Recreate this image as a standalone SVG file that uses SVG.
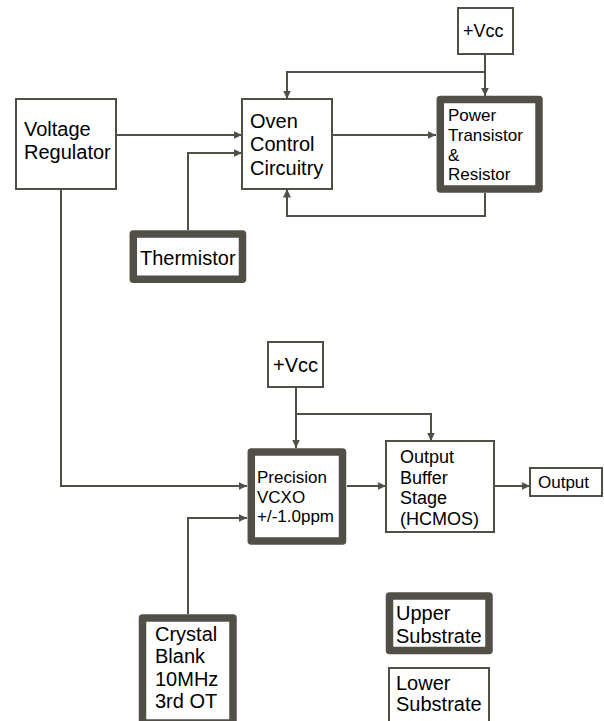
<svg xmlns="http://www.w3.org/2000/svg" width="604" height="721" viewBox="0 0 604 721">
<defs>
<style>
.thin{fill:#fff;stroke:#524f48;stroke-width:2}
.thick{fill:#fff;stroke:#524f48;stroke-width:7.5;stroke-linejoin:round}
.wire{fill:none;stroke:#524f48;stroke-width:2}
text{font-family:"Liberation Sans",Arial,sans-serif;fill:#000}
.f20{font-size:20px}
.f18{font-size:18px}
.f17{font-size:17px}
</style>
<marker id="ah" markerUnits="userSpaceOnUse" markerWidth="9" markerHeight="9" refX="8.5" refY="4.5" orient="auto">
<path d="M0,0.5 L8.5,4.5 L0,8.5 z" fill="#524f48"/>
</marker>
</defs>
<rect width="604" height="721" fill="#fff"/>
<g id="connectors">
<path class="wire" d="M485,54 V96" marker-end="url(#ah)"/>
<path class="wire" d="M485,72 H287 V99" marker-end="url(#ah)"/>
<path class="wire" d="M332,135 H436" marker-end="url(#ah)"/>
<path class="wire" d="M485,193 V216 H287 V189" marker-end="url(#ah)"/>
<path class="wire" d="M116,135 H242" marker-end="url(#ah)"/>
<path class="wire" d="M188,230 V153 H242" marker-end="url(#ah)"/>
<path class="wire" d="M61,189 V486 H247" marker-end="url(#ah)"/>
<path class="wire" d="M296,387 V448" marker-end="url(#ah)"/>
<path class="wire" d="M296,414 H431 V441" marker-end="url(#ah)"/>
<path class="wire" d="M347,486 H386" marker-end="url(#ah)"/>
<path class="wire" d="M494,486 H530" marker-end="url(#ah)"/>
<path class="wire" d="M188,614 V518 H247" marker-end="url(#ah)"/>
</g>
<g id="vcc1">
<rect class="thin" x="458" y="8" width="55" height="46"/>
<text class="f18" x="463" y="37">+Vcc</text>
</g>
<g id="voltage-regulator">
<rect class="thin" x="16" y="99" width="100" height="90"/>
<text class="f20" x="24" y="136">Voltage</text>
<text class="f20" x="24" y="159">Regulator</text>
</g>
<g id="oven-control">
<rect class="thin" x="242" y="99" width="90" height="90"/>
<text class="f20" x="250" y="128">Oven</text>
<text class="f20" x="250" y="151">Control</text>
<text class="f20" x="250" y="175">Circuitry</text>
</g>
<g id="power-transistor">
<rect class="thick" x="440.3" y="99.5" width="98.7" height="89.5"/>
<text class="f17" x="448" y="121">Power</text>
<text class="f17" x="448" y="141">Transistor</text>
<text class="f17" x="448" y="161">&amp;</text>
<text class="f17" x="448" y="180">Resistor</text>
</g>
<g id="thermistor">
<rect class="thick" x="133.3" y="234" width="109.2" height="45.3"/>
<text class="f20" x="140" y="265">Thermistor</text>
</g>
<g id="vcc2">
<rect class="thin" x="268" y="342" width="55" height="45"/>
<text class="f20" x="273" y="372">+Vcc</text>
</g>
<g id="precision-vcxo">
<rect class="thick" x="251.3" y="452" width="91.2" height="89"/>
<text class="f17" x="257" y="483">Precision</text>
<text class="f17" x="257" y="503">VCXO</text>
<text class="f17" x="257" y="522">+/-1.0ppm</text>
</g>
<g id="output-buffer">
<rect class="thin" x="386" y="441" width="108" height="91"/>
<text class="f18" x="400" y="463">Output</text>
<text class="f18" x="400" y="484">Buffer</text>
<text class="f18" x="400" y="504">Stage</text>
<text class="f18" x="400" y="525">(HCMOS)</text>
</g>
<g id="output">
<rect class="thin" x="530" y="468" width="72" height="28"/>
<text class="f17" x="538" y="488">Output</text>
</g>
<g id="crystal-blank">
<rect class="thick" x="142.5" y="618" width="90.5" height="105"/>
<text class="f20" x="155" y="641">Crystal</text>
<text class="f20" x="155" y="663">Blank</text>
<text class="f20" x="155" y="686">10MHz</text>
<text class="f20" x="155" y="708">3rd OT</text>
</g>
<g id="upper-substrate">
<rect class="thick" x="389.5" y="596" width="99.5" height="54.5"/>
<text class="f20" x="396" y="620">Upper</text>
<text class="f20" x="396" y="643">Substrate</text>
</g>
<g id="lower-substrate">
<rect class="thin" x="389" y="668" width="100" height="62"/>
<text class="f20" x="396" y="690">Lower</text>
<text class="f20" x="396" y="711">Substrate</text>
</g>
</svg>
